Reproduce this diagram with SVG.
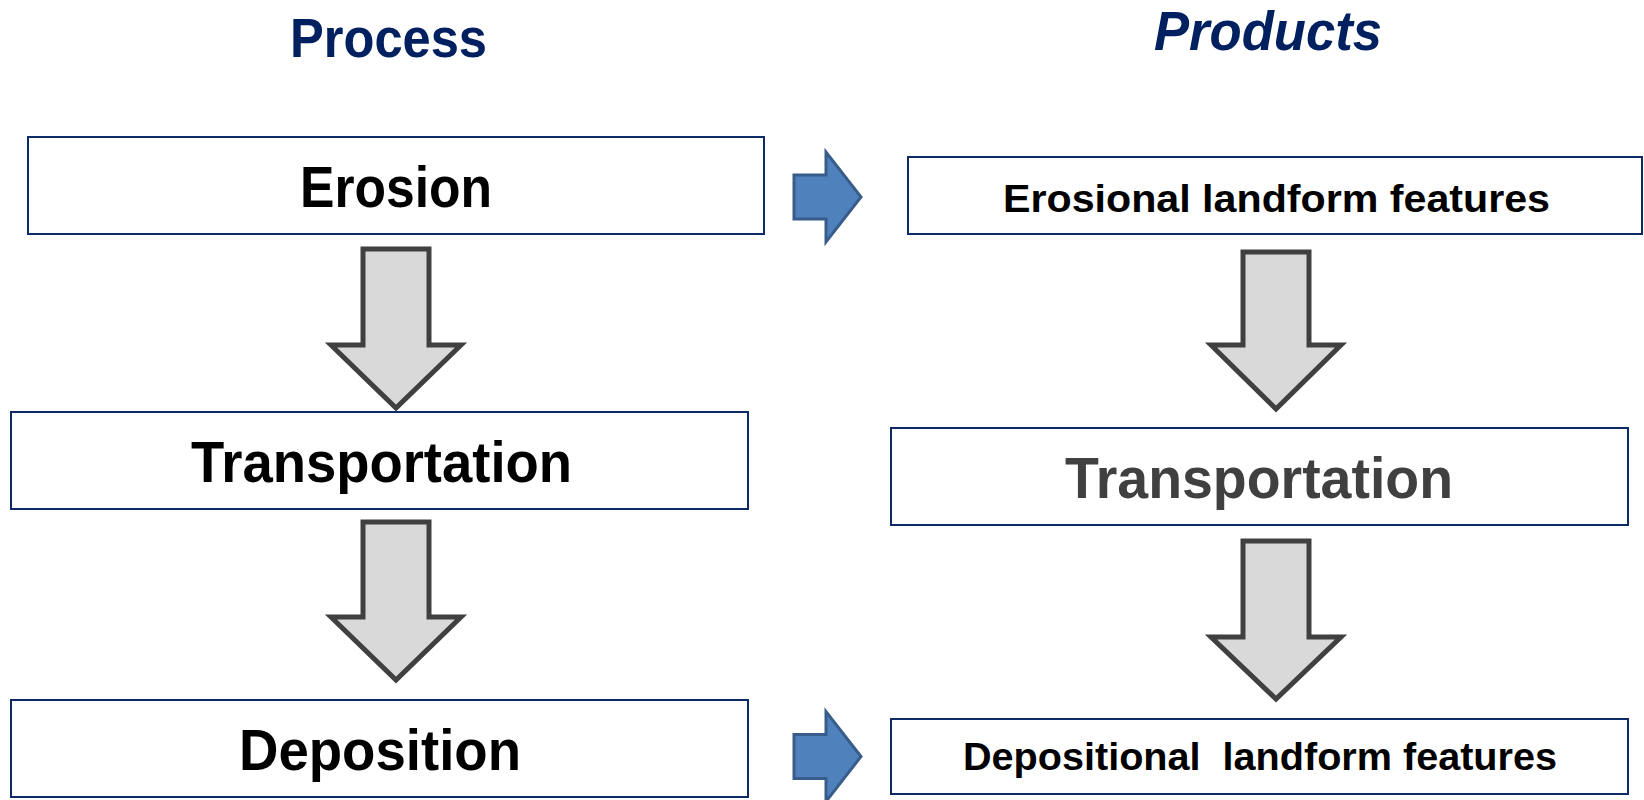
<svg xmlns="http://www.w3.org/2000/svg" width="1644" height="800" viewBox="0 0 1644 800">
<style>
.box{fill:#ffffff;stroke:#0f2a66;stroke-width:2}
.t{font-family:"Liberation Sans",Arial,sans-serif;font-weight:bold;fill:#000000}
.h{font-family:"Liberation Sans",Arial,sans-serif;font-weight:bold;fill:#002060;font-size:56px}
.big{font-size:57px}
.small{font-size:38px}
.gray{fill:#d9d9d9;stroke:#404040;stroke-width:5;stroke-linejoin:miter}
.blue{fill:#4f81bd;stroke:#385d8a;stroke-width:3;stroke-linejoin:miter}
</style>
<rect width="1644" height="800" fill="#ffffff"/>
<g id="title-process"><text class="h" x="290" y="57" textLength="197" lengthAdjust="spacingAndGlyphs">Process</text></g>
<g id="title-products"><text class="h" x="1154" y="50" font-style="italic" textLength="228" lengthAdjust="spacingAndGlyphs">Products</text></g>

<g id="erosion"><rect class="box" x="28" y="137" width="736" height="97"/><text class="t big" x="300" y="207" textLength="192" lengthAdjust="spacingAndGlyphs">Erosion</text></g>
<g id="transportation-left"><rect class="box" x="11" y="412" width="737" height="97"/><text class="t big" x="191" y="482" textLength="381" lengthAdjust="spacingAndGlyphs">Transportation</text></g>
<g id="deposition"><rect class="box" x="11" y="700" width="737" height="97"/><text class="t big" x="239" y="770" textLength="282" lengthAdjust="spacingAndGlyphs">Deposition</text></g>

<g id="erosional-features"><rect class="box" x="908" y="157" width="734" height="77"/><text class="t small" x="1003" y="212" textLength="547" lengthAdjust="spacingAndGlyphs">Erosional landform features</text></g>
<g id="transportation-right"><rect class="box" x="891" y="428" width="737" height="97"/><text class="t big" x="1065" y="498" fill="#404040" style="fill:#404040" textLength="388" lengthAdjust="spacingAndGlyphs">Transportation</text></g>
<g id="depositional-features"><rect class="box" x="891" y="719" width="737" height="75"/><text class="t small" x="963" y="770" xml:space="preserve" style="white-space:pre" textLength="594" lengthAdjust="spacingAndGlyphs">Depositional  landform features</text></g>

<g id="connectors">
<path class="gray" d="M363,249 H429 V345 H461 L396,408 L331,345 H363 Z"/>
<path class="gray" d="M363,522 H429 V617 H461 L396,680 L331,617 H363 Z"/>
<path class="gray" d="M1243,252 H1309 V345 H1341 L1276,409 L1211,345 H1243 Z"/>
<path class="gray" d="M1243,541 H1309 V637 H1341 L1276,699 L1211,637 H1243 Z"/>
<path class="blue" d="M794,175 H826 V152 L861,197 L826,242 V219 H794 Z"/>
<path class="blue" d="M794,734.5 H826 V711.5 L861,756.5 L826,801.5 V778.5 H794 Z"/>
</g>
</svg>
